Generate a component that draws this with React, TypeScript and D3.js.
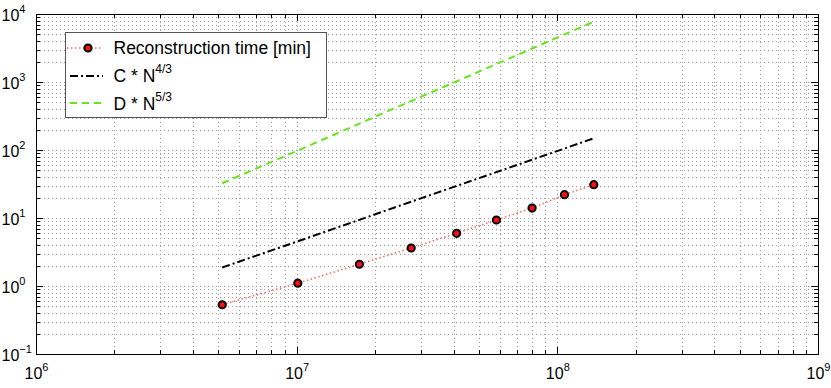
import React from "react";
import * as d3 from "d3";

const N = [5.18e6, 1.01e7, 1.74e7, 2.75e7, 4.11e7, 5.84e7, 8.0e7, 1.065e8, 1.38e8];
const reconTime = [0.53, 1.1, 2.09, 3.62, 5.96, 9.35, 14.0, 22.0, 30.9];
const cLine = [1.87, 4.54, 9.39, 17.4, 29.6, 47.3, 72.0, 105, 149];
const dLine = [32.4, 98.3, 244, 526, 1022, 1840, 3107, 5006, 7721];
const xTickExps = [6, 7, 8, 9];
const yTickExps = [-1, 0, 1, 2, 3, 4];
const legendLabels = ["Reconstruction time [min]", "C * N", "D * N"];
const legendSups = ["", "4/3", "5/3"];

const W = 831;
const H = 388;
const L = 36, R = 818, T = 14, B = 354;
const FONT = "'Liberation Sans', Arial, Helvetica, sans-serif";

export default function App() {
  const x = d3.scaleLog().domain([1e6, 1e9]).range([L, R]);
  const y = d3.scaleLog().domain([1e-1, 1e4]).range([B, T]);

  const xMinor: number[] = [];
  for (let e = 6; e < 9; e++) for (let m = 2; m <= 9; m++) xMinor.push(m * Math.pow(10, e));
  const yMinor: number[] = [];
  for (let e = -1; e < 4; e++) for (let m = 2; m <= 9; m++) yMinor.push(m * Math.pow(10, e));
  const xMajor = xTickExps.map((e) => Math.pow(10, e));
  const yMajor = yTickExps.map((e) => Math.pow(10, e));

  const line = d3
    .line<number>()
    .x((_, i) => x(N[i]))
    .y((v) => y(v));

  const gridColor = "#9a9a9a";
  const gridDash = "1,3";

  return (
    <svg
      width={W}
      height={H}
      style={{ position: "absolute", left: 0, top: 0, background: "#fff" }}
      fontFamily={FONT}
    >
      <rect x={0} y={0} width={W} height={H} fill="#fff" />
      {/* grid */}
      <g stroke={gridColor} strokeWidth={1} strokeDasharray={gridDash} fill="none">
        {[...xMinor, ...xMajor.slice(1, -1)].map((v, i) => (
          <line key={"gx" + i} x1={Math.round(x(v)) + 0.5} x2={Math.round(x(v)) + 0.5} y1={T} y2={B} />
        ))}
        {[...yMinor, ...yMajor.slice(1, -1)].map((v, i) => (
          <line key={"gy" + i} x1={L} x2={R} y1={Math.round(y(v)) + 0.5} y2={Math.round(y(v)) + 0.5} />
        ))}
      </g>
      {/* ticks */}
      <g stroke="#000" strokeWidth={1}>
        {xMajor.map((v, i) => {
          const px = Math.round(x(v)) + 0.5;
          return (
            <g key={"xt" + i}>
              <line x1={px} x2={px} y1={B} y2={B - 7} />
              <line x1={px} x2={px} y1={T} y2={T + 7} />
            </g>
          );
        })}
        {xMinor.map((v, i) => {
          const px = Math.round(x(v)) + 0.5;
          return (
            <g key={"xm" + i}>
              <line x1={px} x2={px} y1={B} y2={B - 4} />
              <line x1={px} x2={px} y1={T} y2={T + 4} />
            </g>
          );
        })}
        {yMajor.map((v, i) => {
          const py = Math.round(y(v)) + 0.5;
          return (
            <g key={"yt" + i}>
              <line x1={L} x2={L + 7} y1={py} y2={py} />
              <line x1={R} x2={R - 7} y1={py} y2={py} />
            </g>
          );
        })}
        {yMinor.map((v, i) => {
          const py = Math.round(y(v)) + 0.5;
          return (
            <g key={"ym" + i}>
              <line x1={L} x2={L + 4} y1={py} y2={py} />
              <line x1={R} x2={R - 4} y1={py} y2={py} />
            </g>
          );
        })}
      </g>
      {/* frame */}
      <rect x={L + 0.5} y={T + 0.5} width={R - L} height={B - T} fill="none" stroke="#000" strokeWidth={1} />

      {/* tick labels */}
      {xTickExps.map((e, i) => (
        <text key={"xl" + i} x={x(Math.pow(10, e)) + 0.5} y={379} textAnchor="middle" fontSize={16} fill="#000">
          10
          <tspan dy={-8} fontSize={11}>{e}</tspan>
        </text>
      ))}
      {yTickExps.map((e, i) => (
        <text key={"yl" + i} x={1.5} y={y(Math.pow(10, e)) + 7} textAnchor="start" fontSize={16} fill="#000">
          10
          <tspan dy={-8} fontSize={11}>{e < 0 ? "\u2212" + Math.abs(e) : e}</tspan>
        </text>
      ))}

      {/* data lines */}
      <path d={line(dLine) || ""} fill="none" stroke="#66e619" strokeWidth={2} strokeDasharray="7,5" />
      <path d={line(cLine) || ""} fill="none" stroke="#000" strokeWidth={2} strokeDasharray="8,3,2,3" />
      <path d={line(reconTime) || ""} fill="none" stroke="#ff6b6b" strokeWidth={1.6} strokeDasharray="1.5,2.5" />
      {reconTime.map((v, i) => (
        <circle key={"pt" + i} cx={x(N[i])} cy={y(v)} r={3.6} fill="#ff1010" stroke="#000" strokeWidth={2} />
      ))}

      {/* legend */}
      <g>
        <rect x={65.5} y={32.5} width={261} height={85} fill="#fff" stroke="#555" strokeWidth={1} />
        <line x1={67} x2={103} y1={48} y2={48} stroke="#ff6b6b" strokeWidth={1.6} strokeDasharray="1.5,2.5" />
        <circle cx={88} cy={48} r={3.6} fill="#ff1010" stroke="#000" strokeWidth={2} />
        <line x1={70} x2={103} y1={76} y2={76} stroke="#000" strokeWidth={2} strokeDasharray="8,3,2,3" />
        <line x1={70} x2={103} y1={103} y2={103} stroke="#66e619" strokeWidth={2} strokeDasharray="7,5" />
        {legendLabels.map((lab, i) => (
          <text key={"lg" + i} x={113.5} y={54 + i * 28} fontSize={17.5} fill="#000">
            {lab}
            {legendSups[i] ? (
              <tspan dy={-9} fontSize={12}>{legendSups[i]}</tspan>
            ) : null}
          </text>
        ))}
      </g>
    </svg>
  );
}
